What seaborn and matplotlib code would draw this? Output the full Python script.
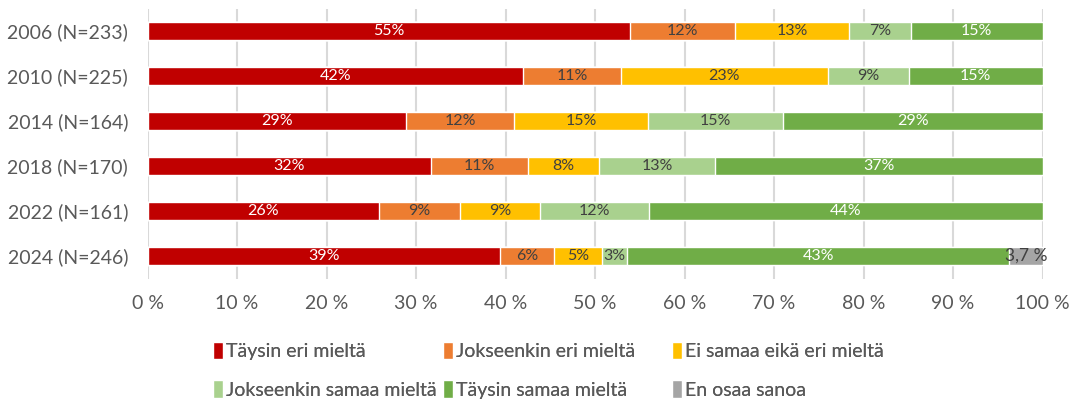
import matplotlib
matplotlib.use("Agg")
import matplotlib.pyplot as plt
import seaborn as sns
import pandas as pd
import numpy as np

years = ["2006 (N=233)", "2010 (N=225)", "2014 (N=164)",
         "2018 (N=170)", "2022 (N=161)", "2024 (N=246)"]
categories = ["Täysin eri mieltä", "Jokseenkin eri mieltä", "Ei samaa eikä eri mieltä",
              "Jokseenkin samaa mieltä", "Täysin samaa mieltä", "En osaa sanoa"]
colors = ["#C00000", "#ED7D31", "#FFC000", "#A9D18E", "#70AD47", "#A5A5A5"]

# bar widths (share of respondents, %)
taysin_eri = [53.9, 42.0, 28.9, 31.7, 25.9, 39.4]
jokseenkin_eri = [11.7, 10.9, 12.1, 10.8, 9.0, 6.0]
ei_samaa = [12.8, 23.1, 14.9, 8.0, 9.0, 5.4]
jokseenkin_samaa = [6.9, 9.1, 15.1, 12.9, 12.1, 2.8]
taysin_samaa = [14.7, 14.9, 29.0, 36.6, 44.0, 42.7]
en_osaa = [0, 0, 0, 0, 0, 3.7]

# printed labels
labels = [
    ["55%", "12%", "13%", "7%", "15%", ""],
    ["42%", "11%", "23%", "9%", "15%", ""],
    ["29%", "12%", "15%", "15%", "29%", ""],
    ["32%", "11%", "8%", "13%", "37%", ""],
    ["26%", "9%", "9%", "12%", "44%", ""],
    ["39%", "6%", "5%", "3%", "43%", "3,7 %"],
]

sns.set_theme(style="white")
plt.rcParams['font.family'] = ['Lato', 'DejaVu Sans']

df = pd.DataFrame({"year": years})
series = [taysin_eri, jokseenkin_eri, ei_samaa, jokseenkin_samaa, taysin_samaa, en_osaa]
for c, s in zip(categories, series):
    df[c] = s
cum = df[categories].cumsum(axis=1)

fig = plt.figure(figsize=(10.75, 4.01), dpi=100)
ax = fig.add_axes([147.5 / 1075, 1 - 278.5 / 401, 895 / 1075, 270 / 401])

for x in np.arange(0, 101, 10):
    ax.axvline(x, color="#D9D9D9", lw=1.5, zorder=0)

# draw cumulative layers, longest first
for i in reversed(range(len(categories))):
    sns.barplot(data=cum.assign(year=years), x=categories[i], y="year",
                color=colors[i], orient="h", width=0.41, saturation=1,
                ax=ax, zorder=2, label=categories[i])
if ax.get_legend() is not None:
    ax.get_legend().remove()

for r in range(len(years)):
    for i, c in enumerate(categories):
        txt = labels[r][i]
        if not txt:
            continue
        center = cum.loc[r, c] - df.loc[r, c] / 2
        col = "white" if i in (0, 4) else "#404040"
        fs = 12.5 if i == 5 else 11.5
        ax.text(center, r, txt, ha="center", va="center", color=col,
                fontsize=fs, zorder=3)

ax.set_xlim(0, 100)
ax.set_ylim(5.5, -0.5)
ax.set_xticks(np.arange(0, 101, 10))
ax.set_xticklabels([f"{v} %" for v in range(0, 101, 10)])
ax.set_xlabel("")
ax.set_ylabel("")
ax.tick_params(axis="both", length=0, labelsize=14, labelcolor="#595959")
ax.tick_params(axis="x", pad=12)
ax.tick_params(axis="y", pad=14)
sns.despine(ax=ax, left=True, bottom=True)

# legend: three fixed-width columns, filled row by row
handles, lbls = ax.get_legend_handles_labels()
lookup = dict(zip(lbls, handles))
col_x = [197, 427, 656]
for j in range(3):
    items = [categories[j], categories[j + 3]]
    lg = fig.legend([lookup[k] for k in items], items, ncol=1, loc="upper left",
                    bbox_to_anchor=(col_x[j] / 1075, 1 - 326 / 401),
                    frameon=False, fontsize=14, handlelength=0.55, handleheight=1.0,
                    handletextpad=0.15, labelspacing=1.05, labelcolor="#595959",
                    borderpad=0.3)
    fig.add_artist(lg)

fig.savefig("out.png", dpi=100)
